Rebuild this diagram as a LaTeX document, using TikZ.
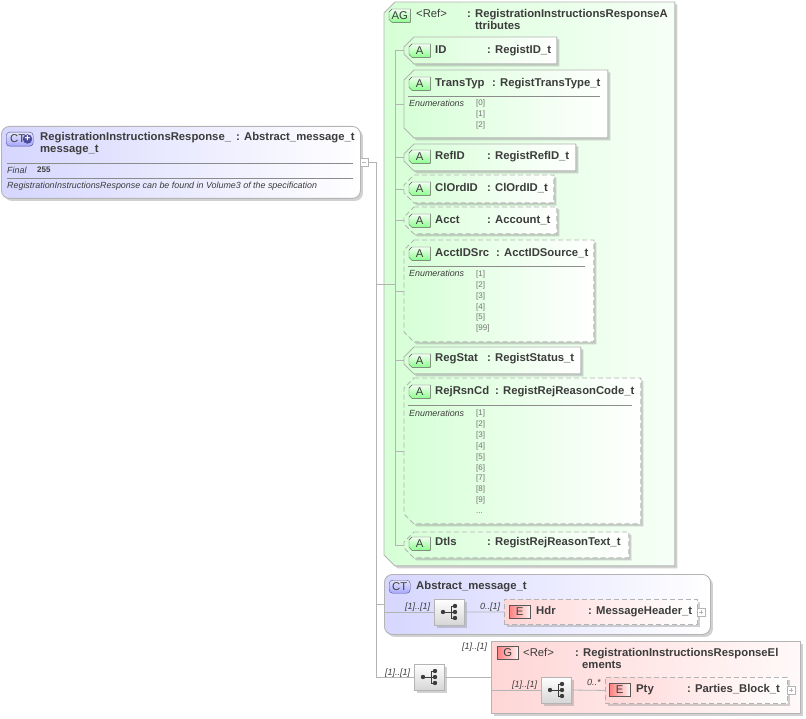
\documentclass[tikz,border=0pt]{standalone}
\usepackage{fontspec}
\setmainfont{Liberation Sans}
\usetikzlibrary{shadows}
\definecolor{ctblue}{HTML}{D6D6FF}
\definecolor{agreen}{HTML}{D6FFD6}
\definecolor{ered}{HTML}{FFD6D6}
\definecolor{edgegrey}{HTML}{B4B4B4}
\definecolor{inkgrey}{HTML}{3C3C3C}
% rectangle with its two left corners cut off
\newdimen\cutl \newdimen\cutr \newdimen\cutt \newdimen\cutb
\makeatletter
\pgfdeclareshape{cutbox}{
  \inheritsavedanchors[from=rectangle]
  \inheritanchorborder[from=rectangle]
  \inheritanchor[from=rectangle]{center}
  \inheritanchor[from=rectangle]{north}
  \inheritanchor[from=rectangle]{south}
  \inheritanchor[from=rectangle]{west}
  \inheritanchor[from=rectangle]{east}
  \inheritanchor[from=rectangle]{north west}
  \backgroundpath{
    \southwest \cutl=\pgf@x \cutb=\pgf@y
    \northeast \cutr=\pgf@x \cutt=\pgf@y
    \pgfpathmoveto{\pgfqpoint{\dimexpr\cutl+\cutsize\relax}{\cutt}}
    \pgfpathlineto{\pgfqpoint{\cutr}{\cutt}}
    \pgfpathlineto{\pgfqpoint{\cutr}{\cutb}}
    \pgfpathlineto{\pgfqpoint{\dimexpr\cutl+\cutsize\relax}{\cutb}}
    \pgfpathlineto{\pgfqpoint{\cutl}{\dimexpr\cutb+\cutsize\relax}}
    \pgfpathlineto{\pgfqpoint{\cutl}{\dimexpr\cutt-\cutsize\relax}}
    \pgfpathclose
  }
}
\makeatother
\def\cutsize{10pt}
\tikzset{
  cut size/.store in = \cutsize,
  boxshadow/.style = {drop shadow={shadow xshift=2.5pt, shadow yshift=-2.5pt, opacity=.4, fill=black!45}},
  panel/.style     = {shape=rectangle, anchor=north west, inner sep=0pt, draw=edgegrey, line width=.9pt, boxshadow},
  ctbox/.style     = {panel, rounded corners=8pt, left color=ctblue, right color=white},
  agbox/.style     = {panel, shape=cutbox, cut size=11pt, left color=agreen, right color=agreen!20},
  attrbox/.style   = {agbox, cut size=10pt, left color=agreen, right color=white},
  opt/.style       = {dash pattern=on 5pt off 3pt},
  elembox/.style   = {panel, opt, left color=ered, right color=white},
  grpbox/.style    = {panel, left color=ered, right color=ered!15},
  seqbox/.style    = {shape=rectangle, draw=edgegrey, minimum width=30pt, minimum height=26pt, inner sep=0pt,
                      top color=white, bottom color=black!16, boxshadow},
  icon/.style      = {shape=rectangle, anchor=north west, inner sep=0pt, minimum width=21pt, minimum height=13pt,
                      draw=black!65, font=\fontsize{11.3}{13}\selectfont, text=inkgrey},
  ctmark/.style    = {icon, rounded corners=3.5pt, draw=blue!35!black!70, top color=ctblue!60, bottom color=blue!35!white},
  amark/.style     = {icon, shape=cutbox, cut size=3pt, top color=green!5, bottom color=green!45!white},
  emark/.style     = {icon, left color=red!50!white, right color=red!5},
  title/.style     = {anchor=base west, inner sep=0pt, text=inkgrey, font=\bfseries\fontsize{11.3}{13}\selectfont},
  note/.style      = {anchor=base west, inner sep=0pt, text=inkgrey, font=\itshape\fontsize{8.9}{10}\selectfont},
  enumval/.style   = {anchor=base west, inner sep=0pt, text=black!55, font=\fontsize{8}{9}\selectfont},
  mult/.style      = {anchor=base west, inner sep=0pt, text=inkgrey, font=\itshape\fontsize{9}{10}\selectfont},
  conn/.style      = {draw=edgegrey, line width=.8pt},
  rule/.style      = {draw=black!45, line width=.6pt},
  toggle/.style    = {shape=rectangle, anchor=west, draw=edgegrey, fill=white, inner sep=0pt, minimum size=8pt},
  seqmark/.pic     = {
    \draw [inkgrey, line width=.8pt] (-6,0) -- (2,0) (2,-6) -- (2,6) (2,-6) -- (6,-6) (2,0) -- (6,0) (2,6) -- (6,6);
    \fill [inkgrey] (-6,0) circle (2.2) (6,-6) circle (2.2) (6,0) circle (2.2) (6,6) circle (2.2);
  },
}
\begin{document}
\begin{tikzpicture}[x=1pt, y=-1pt]
	\useasboundingbox (0,0) rectangle (806,719);

	% complex type on the left
	\node [ctbox, minimum width=359, minimum height=72] (main) at (1,126) {};
	\node [ctmark, minimum width=27, minimum height=14] (mainicon) at (6,132) {};
	\node [anchor=base west, inner sep=0pt, text=inkgrey, font=\fontsize{11.3}{13}\selectfont] (mainct) at (10,143) {CT};
	\node [circle, fill=blue!45!black!70, inner sep=0pt, minimum size=9.5pt, text=white, font=\bfseries\fontsize{10}{10}\selectfont] (mainplus) at (27.5,139) {+};
	\node [title] (mainname) at (40,141) {RegistrationInstructionsResponse\_};
	\node [title] (mainname2) at (40,153) {message\_t};
	\node [title] (maintype) at (236,141) {: Abstract\_message\_t};
	\coordinate (mainrule1a) at (7,163);
	\coordinate (mainrule1b) at (353,163);
	\coordinate (mainrule2a) at (7,178);
	\coordinate (mainrule2b) at (353,178);
	\draw [rule] (mainrule1a) -- (mainrule1b) (mainrule2a) -- (mainrule2b);
	\node [note] (mainfinal) at (7,174) {Final};
	\node [anchor=base west, inner sep=0pt, text=inkgrey, font=\bfseries\fontsize{8}{9}\selectfont] (mainval) at (37,173) {255};
	\node [note] (maindoc) at (7,189) {RegistrationInstructionsResponse can be found in Volume3 of the specification};
	\node [toggle] (mainminus) at (360,162) {};
	\draw [edgegrey] ([xshift=-2pt]mainminus.center) -- ([xshift=2pt]mainminus.center);

	% attribute group
	\node [agbox, minimum width=290, minimum height=563] (ag) at (384,2) {};
	\node [amark] (agicon) at (389,9) {AG};
	\node [title, font=\fontsize{11.3}{13}\selectfont] (agref) at (416,18) {<Ref>};
	\node [title] (agtype) at (467,18) {: RegistrationInstructionsResponseA};
	\node [title] (agtype2) at (475,30) {ttributes};

	\node [attrbox, minimum width=152, minimum height=26] (id) at (404,37) {};
	\node [amark] (idicon) at (409,44) {A};
	\node [title] (idname) at (435,54) {ID};
	\node [title] (idtype) at (487,54) {: RegistID\_t};

	\node [attrbox, minimum width=203, minimum height=67] (trans) at (404,70) {};
	\node [amark] (transicon) at (409,77) {A};
	\node [title] (transname) at (435,87) {TransTyp};
	\node [title] (transtype) at (492,87) {: RegistTransType\_t};
	\coordinate (transrulea) at (408,96.5);
	\coordinate (transruleb) at (600,96.5);
	\draw [rule] (transrulea) -- (transruleb);
	\node [note] (transenum) at (409,107) {Enumerations};
	\foreach \v [count=\i] in {0,1,2}
		\node [enumval] (transval\i) at (476,{106+(\i-1)*10.7}) {[\v]};

	\node [attrbox, minimum width=171, minimum height=26] (refid) at (404,144) {};
	\node [amark] (refidicon) at (409,150) {A};
	\node [title] (refidname) at (435,160) {RefID};
	\node [title] (refidtype) at (487,160) {: RegistRefID\_t};

	\node [attrbox, opt, minimum width=149, minimum height=27] (clord) at (404,175) {};
	\node [amark] (clordicon) at (409,182) {A};
	\node [title] (clordname) at (435,192) {ClOrdID};
	\node [title] (clordtype) at (487,192) {: ClOrdID\_t};

	\node [attrbox, opt, minimum width=152, minimum height=26] (acct) at (404,207) {};
	\node [amark] (accticon) at (409,214) {A};
	\node [title] (acctname) at (435,224) {Acct};
	\node [title] (accttype) at (487,224) {: Account\_t};

	\node [attrbox, opt, minimum width=189, minimum height=101] (src) at (404,240) {};
	\node [amark] (srcicon) at (409,247) {A};
	\node [title] (srcname) at (435,257) {AcctIDSrc};
	\node [title] (srctype) at (496,257) {: AcctIDSource\_t};
	\coordinate (srcrulea) at (408,266.5);
	\coordinate (srcruleb) at (585,266.5);
	\draw [rule] (srcrulea) -- (srcruleb);
	\node [note] (srcenum) at (409,277) {Enumerations};
	\foreach \v [count=\i] in {1,2,3,4,5,99}
		\node [enumval] (srcval\i) at (476,{277+(\i-1)*10.7}) {[\v]};

	\node [attrbox, minimum width=176, minimum height=26] (stat) at (404,347) {};
	\node [amark] (staticon) at (409,354) {A};
	\node [title] (statname) at (435,362) {RegStat};
	\node [title] (stattype) at (487,362) {: RegistStatus\_t};

	\node [attrbox, opt, minimum width=236, minimum height=145] (rej) at (404,378) {};
	\node [amark] (rejicon) at (409,385) {A};
	\node [title] (rejname) at (435,394) {RejRsnCd};
	\node [title] (rejtype) at (495,394) {: RegistRejReasonCode\_t};
	\coordinate (rejrulea) at (408,405);
	\coordinate (rejruleb) at (632,405);
	\draw [rule] (rejrulea) -- (rejruleb);
	\node [note] (rejenum) at (409,416) {Enumerations};
	\foreach \i in {1,2,3,4,5,6,7,8,9}
		\node [enumval] (rejval\i) at (476,{415.5+(\i-1)*10.9}) {[\i]};
	\node [enumval] (rejmore) at (476,513) {...};

	\node [attrbox, opt, minimum width=224, minimum height=25] (dtls) at (404,532) {};
	\node [amark] (dtlsicon) at (409,537) {A};
	\node [title] (dtlsname) at (435,545) {Dtls};
	\node [title] (dtlstype) at (487,545) {: RegistRejReasonText\_t};

	% inherited type
	\node [ctbox, minimum width=326, minimum height=60] (abstract) at (384,574) {};
	\node [ctmark] (abstracticon) at (389,580) {CT};
	\node [title] (abstractname) at (416,589) {Abstract\_message\_t};
	\node [seqbox] (seqhdr) at (449,612) {};
	\pic at (seqhdr.center) {seqmark};
	\node [elembox, minimum width=193, minimum height=25] (hdr) at (504,599) {};
	\node [emark] (hdricon) at (509,605) {E};
	\node [title] (hdrname) at (536,614) {Hdr};
	\node [title] (hdrtype) at (588,614) {: MessageHeader\_t};
	\node [toggle] (hdrplus) at (697,612) {};
	\draw [edgegrey] ([xshift=-2pt]hdrplus.center) -- ([xshift=2pt]hdrplus.center)
		([yshift=-2pt]hdrplus.center) -- ([yshift=2pt]hdrplus.center);
	\node [mult] (hdrmulta) at (405,609) {[1]..[1]};
	\node [mult] (hdrmultb) at (480,609) {0..[1]};

	% element group
	\node [seqbox] (seqouter) at (429,677) {};
	\pic at (seqouter.center) {seqmark};
	\node [grpbox, minimum width=309, minimum height=72] (grp) at (491,641) {};
	\node [emark] (grpicon) at (497,646) {G};
	\node [title, font=\fontsize{11.3}{13}\selectfont] (grpref) at (523,656) {<Ref>};
	\node [title] (grptype) at (575,656) {: RegistrationInstructionsResponseEl};
	\node [title] (grptype2) at (582,668) {ements};
	\node [seqbox] (seqpty) at (556,690) {};
	\pic at (seqpty.center) {seqmark};
	\node [elembox, minimum width=182, minimum height=26] (pty) at (605,677) {};
	\node [emark] (ptyicon) at (609,683) {E};
	\node [title] (ptyname) at (636,692) {Pty};
	\node [title] (ptytype) at (687,692) {: Parties\_Block\_t};
	\node [toggle] (ptyplus) at (787,690) {};
	\draw [edgegrey] ([xshift=-2pt]ptyplus.center) -- ([xshift=2pt]ptyplus.center)
		([yshift=-2pt]ptyplus.center) -- ([yshift=2pt]ptyplus.center);
	\node [mult] (grpmult) at (462,649) {[1]..[1]};
	\node [mult] (outermult) at (385,675) {[1]..[1]};
	\node [mult] (ptymulta) at (512,687) {[1]..[1]};
	\node [mult] (ptymultb) at (587,685) {0..*};

	% connectors
	\coordinate (rootbus) at (376,161);
	\coordinate (agbus) at (395,284);
	\draw [conn] (mainminus.east) -- (rootbus |- mainminus.east) -- (rootbus |- seqouter.west) -- (seqouter.west);
	\draw [conn] (rootbus |- agbus) -- (agbus);
	\draw [conn] (rootbus |- abstract.west) -- (abstract.west);
	\draw [conn] (agbus |- id.west) -- (agbus |- dtls.west);
	\foreach \attr in {id,trans,refid,clord,acct,src,stat,rej,dtls}
		\draw [conn] (agbus |- \attr.west) -- (\attr.west);
	\draw [conn] (seqhdr.west -| abstract.west) -- (seqhdr.west);
	\draw [conn] (seqhdr.east) -- (hdr.west);
	\draw [conn] (seqouter.east) -- (seqouter.east -| grp.west);
	\draw [conn] (seqpty.west -| grp.west) -- (seqpty.west);
	\draw [conn] (seqpty.east) -- (pty.west);
\end{tikzpicture}
\end{document}
